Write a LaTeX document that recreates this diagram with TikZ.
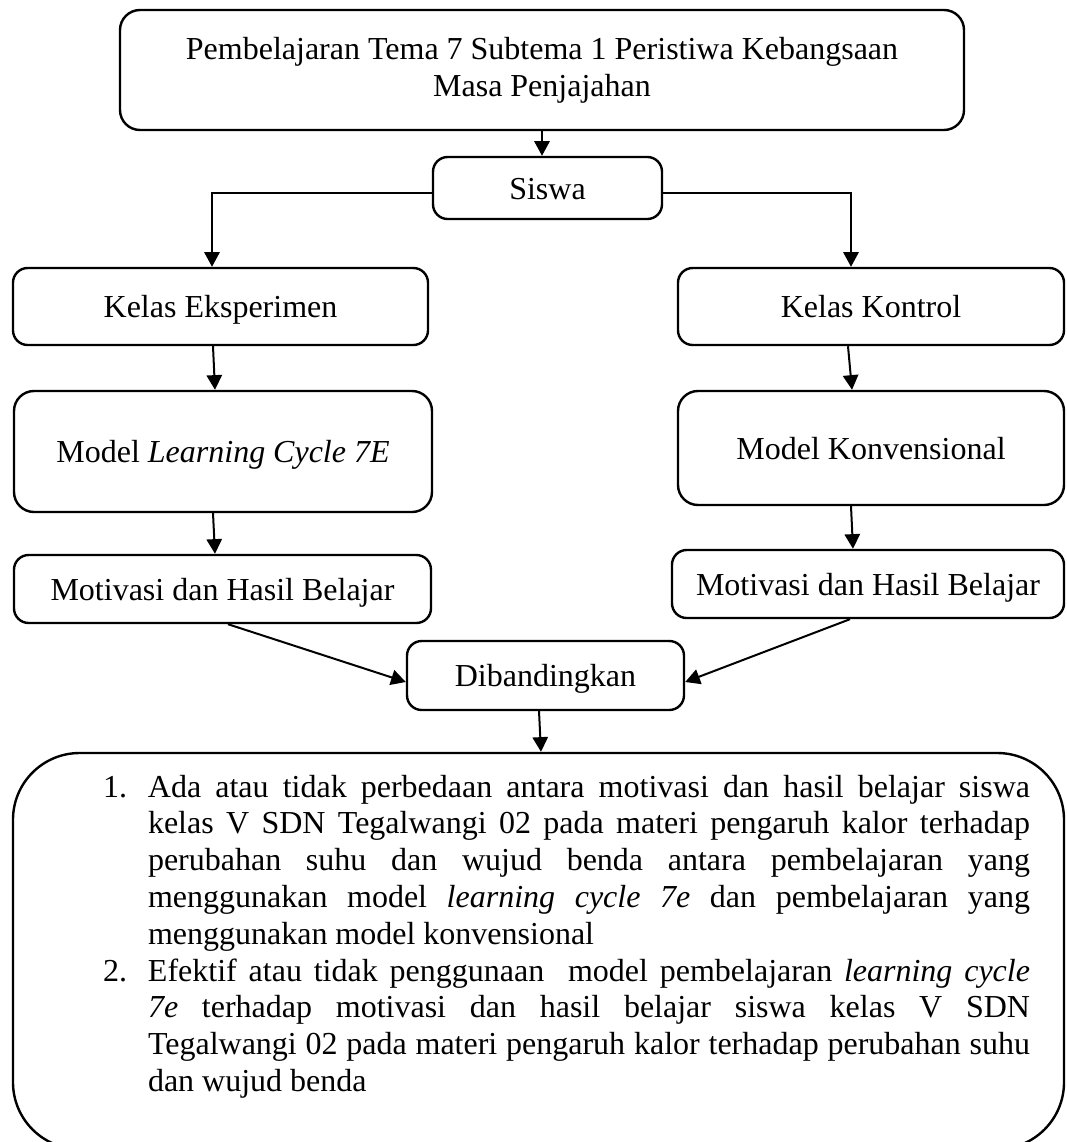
\documentclass[tikz,border=0pt]{standalone}
\usepackage{fontspec}
\setmainfont{Liberation Serif}
\usetikzlibrary{arrows.meta,calc}
% one justified line / one left-aligned line of the result list
\newcommand\jline[1]{\makebox[661.5pt][s]{#1}}
\newcommand\lline[1]{\makebox[661.5pt][l]{#1}}
\newcommand\firstline[2]{\noindent\strut\hspace*{67.5pt}\makebox[33.75pt][l]{#1}#2\par}
\newcommand\nextline[1]{\noindent\strut\hspace*{101.25pt}#1\par}
\begin{document}
\begin{tikzpicture}[x=0.75pt,y=-0.75pt,
  font=\fontsize{24}{27.6}\selectfont,
  frame/.style={draw, line width=1.8pt, inner sep=0pt, rounded corners=11pt},
  oneline/.style={frame, text height=17pt, text depth=0pt},
  arr/.style={line width=1.5pt, -{Triangle[length=11pt,width=11.5pt]}}]
\useasboundingbox (0,0) rectangle (1067,1142);

% boxes
\node[frame, rounded corners=15pt, minimum width=633pt, minimum height=90pt, align=center]
  (top) at (542,70) {Pembelajaran Tema 7 Subtema 1 Peristiwa Kebangsaan\\Masa Penjajahan};
\node[oneline, minimum width=171.75pt, minimum height=46.5pt] (siswa) at (547.5,188) {Siswa};
\node[oneline, minimum width=311.25pt, minimum height=57.75pt] (kelasE) at (220.5,306.5) {Kelas Eksperimen};
\node[oneline, minimum width=289.5pt, minimum height=57.75pt] (kelasK) at (871,306.5) {Kelas Kontrol};
\node[oneline, rounded corners=15pt, minimum width=313.5pt, minimum height=90.75pt] (modelE) at (223,451.5) {Model \textit{Learning Cycle 7E}};
\node[oneline, rounded corners=15pt, minimum width=289.5pt, minimum height=85.5pt] (modelK) at (871,448) {Model Konvensional};
\node[oneline, minimum width=312.75pt, minimum height=51pt] (motE) at (222.5,589) {Motivasi dan Hasil Belajar};
\node[oneline, minimum width=294pt, minimum height=51pt] (motK) at (868,584) {Motivasi dan Hasil Belajar};
\node[oneline, minimum width=207.75pt, minimum height=51.75pt] (dib) at (545.5,675.5) {Dibandingkan};
\node[frame, rounded corners=50pt, minimum width=788.25pt, minimum height=297pt] (result) at (538.5,951) {%
  \begin{minipage}[c][297pt][t]{788.25pt}
  \vspace*{13.7pt}
  \firstline{1.}{\jline{Ada atau tidak perbedaan antara motivasi dan hasil belajar siswa}}
  \nextline{\jline{kelas V SDN Tegalwangi 02 pada materi pengaruh kalor terhadap}}
  \nextline{\jline{perubahan suhu dan wujud benda antara pembelajaran yang}}
  \nextline{\jline{menggunakan model \textit{learning cycle 7e} dan pembelajaran yang}}
  \nextline{\lline{menggunakan model konvensional}}
  \firstline{2.}{\jline{Efektif atau tidak penggunaan\ \ model pembelajaran \textit{learning cycle}}}
  \nextline{\jline{\textit{7e} terhadap motivasi dan hasil belajar siswa kelas V SDN}}
  \nextline{\jline{Tegalwangi 02 pada materi pengaruh kalor terhadap perubahan suhu}}
  \nextline{\lline{dan wujud benda}}
  \end{minipage}};

% connectors
\draw[arr] (top.south) -- (top.south |- siswa.north);
\draw[arr] ($(siswa.west)+(0,5)$) -| ($(kelasE.north)+(-8.5,0)$);
\draw[arr] ($(siswa.east)+(0,5)$) -| ($(kelasK.north)+(-20,0)$);
\draw[arr] ($(kelasE.south)+(-7.5,0)$) -- ($(modelE.north)+(-8,0)$);
\draw[arr] ($(kelasK.south)+(-23,0)$) -- ($(modelK.north)+(-19,0)$);
\draw[arr] ($(modelE.south)+(-10,0)$) -- ($(motE.north)+(-7.5,0)$);
\draw[arr] ($(modelK.south)+(-20,0)$) -- ($(motK.north)+(-15,0)$);
\draw[arr] ($(motE.south)+(5.5,0)$) -- ($(dib.west)+(0,6.5)$);
\draw[arr] ($(motK.south)+(-18,0)$) -- ($(dib.east)+(0,6.5)$);
\draw[arr] ($(dib.south)+(-6.5,0)$) -- ($(result.north)+(2.5,0)$);
\end{tikzpicture}
\end{document}
